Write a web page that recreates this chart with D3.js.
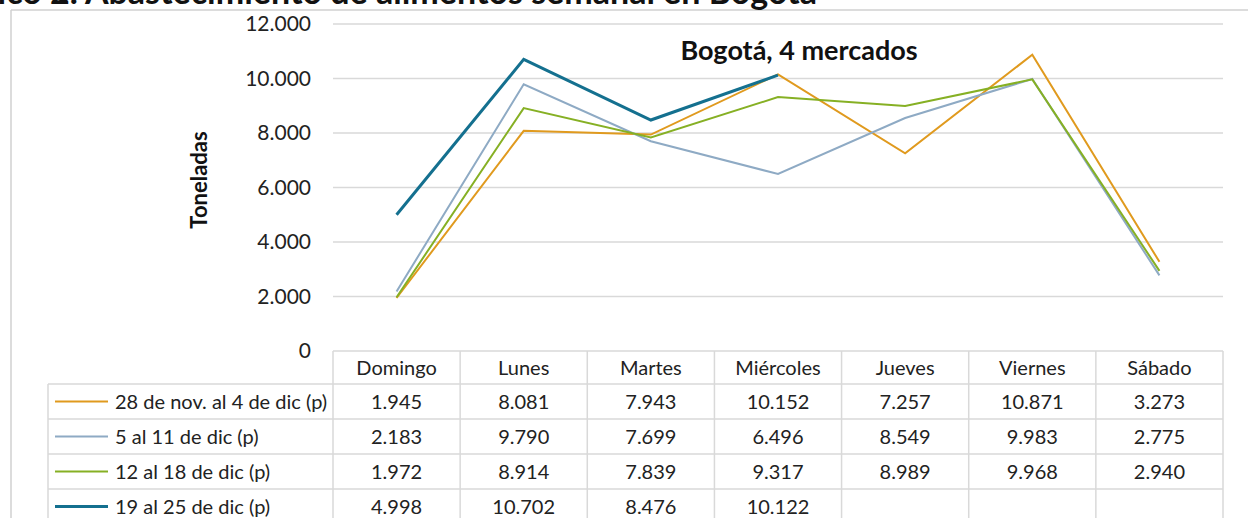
<!DOCTYPE html>
<html>
<head>
<meta charset="utf-8">
<script src="https://cdn.jsdelivr.net/npm/d3@7"></script>
<style>
  body { margin: 0; background: #fff; }
  svg { display: block; font-family: Lato, "Open Sans", sans-serif; }
</style>
</head>
<body>
<svg id="chart" width="1248" height="518"></svg>
<script>
const dias = ["Domingo", "Lunes", "Martes", "Miércoles", "Jueves", "Viernes", "Sábado"];
const semanas = ["28 de nov. al 4 de dic (p)", "5 al 11 de dic (p)", "12 al 18 de dic (p)", "19 al 25 de dic (p)"];
const semana1 = [1945, 8081, 7943, 10152, 7257, 10871, 3273];
const semana2 = [2183, 9790, 7699, 6496, 8549, 9983, 2775];
const semana3 = [1972, 8914, 7839, 9317, 8989, 9968, 2940];
const semana4 = [4998, 10702, 8476, 10122, null, null, null];
const yTicks = [0, 2000, 4000, 6000, 8000, 10000, 12000];
const colores = ["#e09a1e", "#8eaac4", "#86b024", "#14708f"];
const grosor = [2, 2, 2, 3];

const series = [semana1, semana2, semana3, semana4];

const svg = d3.select("#chart");
const gridCol = "#d9d9d9";

// formato 12.000
const fmt = v => d3.format(",")(v).replace(/,/g, ".");

// escalas
const x = d3.scaleBand().domain(dias).range([333, 1223]);
const y = d3.scaleLinear().domain([0, 12000]).range([351, 24]);

// marco
svg.append("line").attr("x1", 11).attr("x2", 1248).attr("y1", 10).attr("y2", 10)
  .attr("stroke", "#d0d0d0").attr("stroke-width", 1.5);
svg.append("line").attr("x1", 11).attr("x2", 11).attr("y1", 10).attr("y2", 518)
  .attr("stroke", "#d0d0d0").attr("stroke-width", 1.5);

// titulo (cortado arriba)
svg.append("text")
  .attr("x", 817).attr("y", 4)
  .attr("text-anchor", "end")
  .style("font-size", "34px").style("font-weight", "bold").attr("fill", "#111")
  .text("Gráfico 2. Abastecimiento de alimentos semanal en Bogotá");

// grid
svg.append("g").selectAll("line")
  .data(yTicks.filter(d => d > 0))
  .enter().append("line")
  .attr("x1", 333).attr("x2", 1223)
  .attr("y1", d => y(d)).attr("y2", d => y(d))
  .attr("stroke", gridCol).attr("stroke-width", 1.5);

// eje Y
svg.append("g")
  .attr("transform", "translate(311,0)")
  .style("font-size", "21px")
  .call(d3.axisLeft(y).tickValues(yTicks).tickFormat(fmt).tickSize(0).tickPadding(0))
  .call(g => g.select(".domain").remove())
  .call(g => g.selectAll("text").attr("fill", "#222").attr("font-family", "Lato, 'Open Sans', sans-serif"));

svg.append("text")
  .attr("transform", "translate(207,180) rotate(-90)")
  .attr("text-anchor", "middle")
  .style("font-size", "22px").style("font-weight", "bold").attr("fill", "#111")
  .text("Toneladas");

// subtitulo
svg.append("text")
  .attr("x", 799).attr("y", 60)
  .attr("text-anchor", "middle")
  .style("font-size", "27px").style("font-weight", "bold").attr("fill", "#111")
  .text("Bogotá, 4 mercados");

// lineas
const line = d3.line()
  .defined(d => d != null)
  .x((d, i) => x(dias[i]) + x.bandwidth() / 2)
  .y(d => y(d));

svg.append("g").selectAll("path")
  .data(series)
  .enter().append("path")
  .attr("d", line)
  .attr("fill", "none")
  .attr("stroke", (d, i) => colores[i])
  .attr("stroke-width", (d, i) => grosor[i])
  .attr("stroke-linejoin", "miter");

// tabla
const tablaTop = y(0);
const headH = 33, rowH = 35;
const legX = 48;
const rowY = i => tablaTop + headH + i * rowH;
const tabla = svg.append("g");

// bordes horizontales
tabla.append("line").attr("x1", 333).attr("x2", 1223).attr("y1", tablaTop).attr("y2", tablaTop)
  .attr("stroke", gridCol).attr("stroke-width", 1.5);
tabla.selectAll(".hrow").data(d3.range(semanas.length + 1))
  .enter().append("line")
  .attr("x1", legX).attr("x2", 1223)
  .attr("y1", d => rowY(d)).attr("y2", d => rowY(d))
  .attr("stroke", gridCol).attr("stroke-width", 1.5);

// bordes verticales
tabla.selectAll(".vcol").data(dias.concat(["end"]))
  .enter().append("line")
  .attr("x1", (d, i) => i < dias.length ? x(d) : x.range()[1])
  .attr("x2", (d, i) => i < dias.length ? x(d) : x.range()[1])
  .attr("y1", tablaTop).attr("y2", 518)
  .attr("stroke", gridCol).attr("stroke-width", 1.5);
tabla.append("line").attr("x1", legX).attr("x2", legX).attr("y1", rowY(0)).attr("y2", 518)
  .attr("stroke", gridCol).attr("stroke-width", 1.5);

// encabezados
tabla.selectAll(".head").data(dias)
  .enter().append("text")
  .attr("x", d => x(d) + x.bandwidth() / 2)
  .attr("y", tablaTop + headH / 2)
  .attr("dy", "0.35em")
  .attr("text-anchor", "middle")
  .style("font-size", "20px").attr("fill", "#222")
  .text(d => d);

// filas
semanas.forEach((s, r) => {
  const cy = rowY(r) + rowH / 2;
  tabla.append("line")
    .attr("x1", 55).attr("x2", 108).attr("y1", cy).attr("y2", cy)
    .attr("stroke", colores[r]).attr("stroke-width", grosor[r]);
  tabla.append("text")
    .attr("x", 115).attr("y", cy).attr("dy", "0.35em")
    .style("font-size", "20px").attr("fill", "#222")
    .text(s);
  tabla.selectAll(".v" + r).data(series[r])
    .enter().append("text")
    .attr("x", (d, i) => x(dias[i]) + x.bandwidth() / 2)
    .attr("y", cy).attr("dy", "0.35em")
    .attr("text-anchor", "middle")
    .style("font-size", "20px").attr("fill", "#222")
    .text(d => d == null ? "" : fmt(d));
});
</script>
</body>
</html>
